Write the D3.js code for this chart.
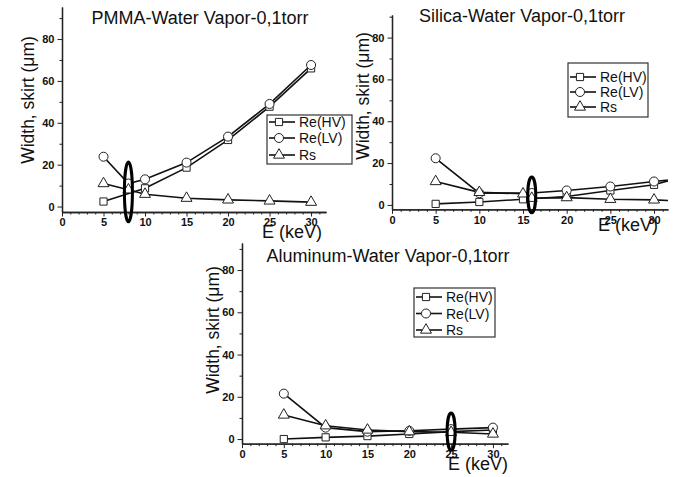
<!DOCTYPE html>
<html><head><meta charset="utf-8">
<script src="https://cdn.jsdelivr.net/npm/d3@7"></script>
<style>body{margin:0;background:#fff;} text{font-family:Arial,"Liberation Sans",sans-serif;}</style>
</head><body>
<script>
// ---- data (E in keV, width in µm) ----
const seriesNames = ["Re(HV)", "Re(LV)", "Rs"];
const xMajorTicks = [0, 5, 10, 15, 20, 25, 30];
const yMajorTicks = [0, 20, 40, 60, 80];

const pmmaReHV = [[5,2.4],[10,8.7],[15,18.6],[20,31.8],[25,47.7],[30,66]];
const pmmaReLV = [[5,23.8],[8,11],[10,13],[15,21],[20,33.4],[25,49],[30,67.6]];
const pmmaRs   = [[5,11],[8,8],[10,5.9],[15,4],[20,3.2],[25,2.7],[30,2.1]];

const silicaReHV = [[5,0.5],[10,1.4],[15,2.7],[20,4],[25,6.9],[30,9.6],[35,15.6]];
const silicaReLV = [[5,22.3],[10,5.6],[16,5.7],[20,6.9],[25,8.8],[30,11.2],[35,13.2]];
const silicaRs   = [[5,11.2],[10,6],[15,5.3],[16,3.2],[20,3.5],[25,2.7],[30,2.4],[35,1.5]];

const aluReHV = [[5,0],[10,0.8],[15,1.4],[20,2.4],[25,3.5],[30,4.3]];
const aluReLV = [[5,21.5],[10,5.4],[15,3.5],[20,3.9],[25,4.7],[30,5.4]];
const aluRs   = [[5,11.4],[10,6.3],[15,4.3],[20,3.5],[25,3.2],[30,2.4]];

// highlighted crossing (E, width, half-height in µm)
const pmmaMark = [8, 7, 14.3];
const silicaMark = [16, 4.8, 8.6];
const aluMark = [25, 3.5, 8.8];

const titles = ["PMMA-Water Vapor-0,1torr", "Silica-Water Vapor-0,1torr", "Aluminum-Water Vapor-0,1torr"];

// ---- layout ----
const panels = [
  {title: titles[0], series: [pmmaReHV, pmmaReLV, pmmaRs], mark: pmmaMark,
   xr: [62, 326], xd: [0, 31.8], yr: [212, 7], yd: [-2.6, 95.3],
   titleX: 200, titleY: 24, ylX: 34, ylY: 100, xlX: 292, xlY: 238,
   leg: {x: 267, y: 115, w: 85, h: 49, rows: [122, 138, 155]}},
  {title: titles[1], series: [silicaReHV, silicaReLV, silicaRs], mark: silicaMark,
   xr: [392, 668], xd: [0, 31.6], yr: [209.3, 15], yd: [-2.1, 90.8],
   titleX: 522, titleY: 22, ylX: 369, ylY: 96, xlX: 628, xlY: 231,
   leg: {x: 568, y: 63, w: 80, h: 54, rows: [77, 92, 107]}},
  {title: titles[2], series: [aluReHV, aluReLV, aluRs], mark: aluMark,
   xr: [242, 508], xd: [0, 31.8], yr: [443.7, 243], yd: [-2.2, 92.8],
   titleX: 388, titleY: 262, ylX: 219, ylY: 330, xlX: 478, xlY: 470,
   leg: {x: 414, y: 288, w: 81, h: 49, rows: [297, 313.5, 330]}}
];

const symTypes = [d3.symbolSquare, d3.symbolCircle, d3.symbolTriangle];
const symSizes = [52, 64, 52];

const svg = d3.select("body").append("svg").attr("width", 686).attr("height", 477);

panels.forEach((p, i) => {
  const g = svg.append("g");
  const x = d3.scaleLinear().domain(p.xd).range(p.xr);
  const y = d3.scaleLinear().domain(p.yd).range(p.yr);

  const clipId = "clip" + i;
  svg.append("clipPath").attr("id", clipId).append("rect")
    .attr("x", p.xr[0]).attr("y", p.yr[1]).attr("width", p.xr[1] - p.xr[0]).attr("height", p.yr[0] - p.yr[1] + 6);

  // axes
  const xMinor = d3.range(1, 32).filter(v => v % 5 !== 0 && v <= p.xd[1]);
  const yMinor = [10, 30, 50, 70, 90].filter(v => v <= p.yd[1]);
  g.append("g").attr("transform", `translate(0,${p.yr[0]})`)
    .call(d3.axisBottom(x).tickValues(xMinor).tickSize(2.5).tickFormat("").tickSizeOuter(0));
  g.append("g").attr("transform", `translate(0,${p.yr[0]})`)
    .call(d3.axisBottom(x).tickValues(xMajorTicks).tickSize(4.5).tickPadding(2).tickSizeOuter(0));
  g.append("g").attr("transform", `translate(${p.xr[0]},0)`)
    .call(d3.axisLeft(y).tickValues(yMinor).tickSize(2.5).tickFormat("").tickSizeOuter(0));
  g.append("g").attr("transform", `translate(${p.xr[0]},0)`)
    .call(d3.axisLeft(y).tickValues(yMajorTicks).tickSize(4.5).tickPadding(3).tickSizeOuter(0));
  g.selectAll(".domain").attr("stroke", "#222").attr("stroke-width", 1.3);
  g.selectAll(".tick line").attr("stroke", "#222").attr("stroke-width", 1);
  g.selectAll(".tick text").attr("font-size", 11).attr("font-weight", "bold").attr("fill", "#111")
    .attr("font-family", "Arial, 'Liberation Sans', sans-serif");

  // series
  const line = d3.line().x(d => x(d[0])).y(d => y(d[1]));
  const plot = g.append("g").attr("clip-path", `url(#${clipId})`);
  p.series.forEach((s, k) => {
    plot.append("path").datum(s).attr("d", line).attr("fill", "none")
      .attr("stroke", "#111").attr("stroke-width", 1.6);
  });
  p.series.forEach((s, k) => {
    plot.selectAll(null).data(s).join("path")
      .attr("transform", d => `translate(${x(d[0])},${y(d[1])})`)
      .attr("d", d3.symbol().type(symTypes[k]).size(symSizes[k])())
      .attr("fill", "#fff").attr("stroke", "#222").attr("stroke-width", 1);
  });

  // highlight ellipse
  g.append("ellipse").attr("cx", x(p.mark[0])).attr("cy", y(p.mark[1]))
    .attr("rx", 4).attr("ry", y(0) - y(p.mark[2]))
    .attr("fill", "none").attr("stroke", "#000").attr("stroke-width", 3);

  // texts
  g.append("text").attr("x", p.titleX).attr("y", p.titleY).attr("text-anchor", "middle")
    .attr("font-size", 18).attr("fill", "#111").text(p.title);
  g.append("text").attr("transform", `translate(${p.ylX},${p.ylY}) rotate(-90)`)
    .attr("text-anchor", "middle").attr("font-size", 17.5).attr("fill", "#111").text("Width, skirt (μm)");
  g.append("text").attr("x", p.xlX).attr("y", p.xlY).attr("text-anchor", "middle")
    .attr("font-size", 18).attr("fill", "#111").text("E (keV)");

  // legend
  const L = p.leg;
  const lg = g.append("g");
  lg.append("rect").attr("x", L.x).attr("y", L.y).attr("width", L.w).attr("height", L.h)
    .attr("fill", "#fff").attr("stroke", "#333").attr("stroke-width", 1.2);
  seriesNames.forEach((nm, k) => {
    const ry = L.rows[k];
    lg.append("line").attr("x1", L.x + 2).attr("x2", L.x + 28).attr("y1", ry).attr("y2", ry)
      .attr("stroke", "#111").attr("stroke-width", 1.6);
    lg.append("path").attr("transform", `translate(${L.x + 12},${ry})`)
      .attr("d", d3.symbol().type(symTypes[k]).size(symSizes[k])())
      .attr("fill", "#fff").attr("stroke", "#222").attr("stroke-width", 1);
    lg.append("text").attr("x", L.x + 32).attr("y", ry + 5).attr("font-size", 14)
      .attr("fill", "#111").text(nm);
  });
});
</script>
</body></html>
